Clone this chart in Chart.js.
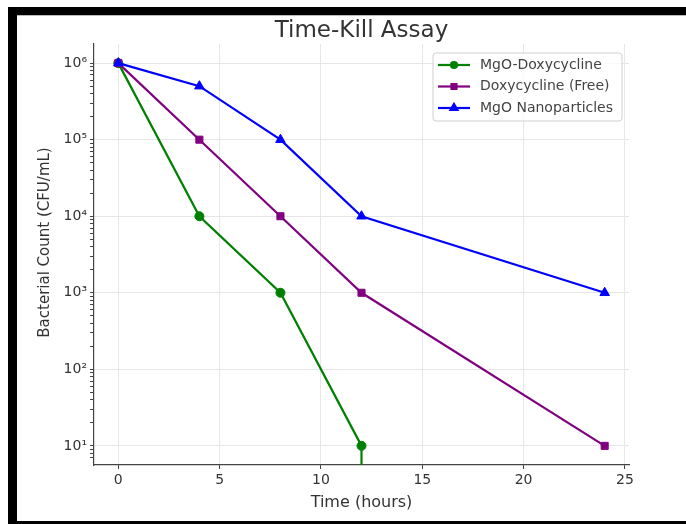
<!DOCTYPE html>
<html>
<head>
<meta charset="utf-8">
<script src="https://cdn.jsdelivr.net/npm/chart.js@4.4.1/dist/chart.umd.min.js"></script>
<style>
html, body { margin: 0; padding: 0; background: #fff; overflow: hidden; }
#frame { position: absolute; left: 8px; top: 7px; width: 800px; height: 506px;
  border: 9px solid #000; border-top-width: 8px; border-right: none;
  box-shadow: inset 0 1px 0 #bbb; }
#chart { position: absolute; left: 0; top: 0; }
</style>
</head>
<body>
<div id="frame"></div>
<canvas id="chart" width="686" height="524"></canvas>
<script>
// values
const hours = [0, 4, 8, 12, 24];
const mgoDoxy = [1e6, 1e4, 1e3, 10, 0];   // drops to zero at 24 h
const doxyFree = [1e6, 1e5, 1e4, 1e3, 10];
const mgoNano = [1e6, 5e5, 1e5, 1e4, 1e3];
const seriesNames = ['MgO-Doxycycline', 'Doxycycline (Free)', 'MgO Nanoparticles'];
const xTicks = [0, 5, 10, 15, 20, 25];
const yMajor = [10, 100, 1e3, 1e4, 1e5, 1e6];

const sup = {'0':'⁰','1':'¹','2':'²','3':'³','4':'⁴','5':'⁵','6':'⁶','7':'⁷','8':'⁸','9':'⁹'};
function powLabel(v) {
  const e = Math.round(Math.log10(v));
  return '10' + String(e).split('').map(c => sup[c]).join('');
}
function isWhole(v) {
  const m = v / Math.pow(10, Math.floor(Math.log10(v) + 1e-9));
  return Math.abs(m - Math.round(m)) < 1e-6;
}
function pts(ys) {
  return hours.map((h, i) => ({x: h, y: ys[i]}));
}

// matplotlib clips a zero on a log axis, so the line falls straight down
const dropToAxis = {
  id: 'dropToAxis',
  beforeDatasetsDraw(chart) {
    const {ctx, chartArea, scales} = chart;
    chart.data.datasets.forEach(ds => {
      ds.data.forEach((p, j) => {
        if (j > 0 && p.y <= 0 && ds.data[j - 1].y > 0) {
          const x0 = scales.x.getPixelForValue(ds.data[j - 1].x);
          const y0 = scales.y.getPixelForValue(ds.data[j - 1].y);
          ctx.save();
          ctx.strokeStyle = ds.borderColor;
          ctx.lineWidth = ds.borderWidth;
          ctx.beginPath();
          ctx.moveTo(x0, y0);
          ctx.lineTo(x0, chartArea.bottom);
          ctx.stroke();
          ctx.restore();
        }
      });
    });
  }
};

// chart title and y label, placed where the original put them
const axesText = {
  id: 'axesText',
  afterDraw(chart) {
    const {ctx, chartArea} = chart;
    ctx.save();
    ctx.font = '23px "DejaVu Sans"';
    ctx.fillStyle = '#333';
    ctx.textAlign = 'center';
    ctx.textBaseline = 'alphabetic';
    ctx.fillText('Time-Kill Assay', (chartArea.left + chartArea.right) / 2, 37);
    ctx.translate(45, (chartArea.top + chartArea.bottom) / 2 - 12);
    ctx.rotate(-Math.PI / 2);
    ctx.font = '15px "DejaVu Sans"';
    ctx.textBaseline = 'middle';
    ctx.fillText('Bacterial Count (CFU/mL)', 0, 0);
    ctx.restore();
  }
};

const boxLegend = {
  id: 'boxLegend',
  afterDraw(chart) {
    const {ctx, chartArea} = chart;
    const w = 189, h = 68;
    const left = chartArea.right - 7 - w, top = chartArea.top + 9;
    ctx.save();
    ctx.beginPath();
    ctx.roundRect(left, top, w, h, 3);
    ctx.fillStyle = 'rgba(255,255,255,0.8)';
    ctx.fill();
    ctx.strokeStyle = '#d0d0d0';
    ctx.lineWidth = 1;
    ctx.stroke();
    chart.data.datasets.forEach((ds, i) => {
      const y = top + 12 + i * 21.5;
      ctx.strokeStyle = ds.borderColor;
      ctx.fillStyle = ds.backgroundColor;
      ctx.lineWidth = ds.borderWidth;
      ctx.beginPath();
      ctx.moveTo(left + 5, y);
      ctx.lineTo(left + 37, y);
      ctx.stroke();
      Chart.helpers.drawPoint(ctx, {pointStyle: ds.pointStyle, radius: ds.pointRadius - 1.5, rotation: 0, borderWidth: 1}, left + 21, y);
      ctx.font = '14px "DejaVu Sans"';
      ctx.fillStyle = '#444';
      ctx.textAlign = 'left';
      ctx.textBaseline = 'middle';
      ctx.fillText(ds.label, left + 47, y);
    });
    ctx.restore();
  }
};

const tickFont = {family: 'DejaVu Sans', size: 14};

new Chart(document.getElementById('chart'), {
  type: 'line',
  data: {
    datasets: [
      {label: seriesNames[0], data: pts(mgoDoxy), borderColor: '#008000', backgroundColor: '#008000',
       pointStyle: 'circle', pointRadius: 4.5, order: 2},
      {label: seriesNames[1], data: pts(doxyFree), borderColor: '#800080', backgroundColor: '#800080',
       pointStyle: 'rect', pointRadius: 5, order: 1},
      {label: seriesNames[2], data: pts(mgoNano), borderColor: '#0000ff', backgroundColor: '#0000ff',
       pointStyle: 'triangle', pointRadius: 5.5, order: 0}
    ].map(d => Object.assign({borderWidth: 2.2, pointBorderWidth: 1, tension: 0, fill: false}, d))
  },
  options: {
    responsive: false,
    animation: false,
    layout: {padding: {top: 44, right: 57, left: 0, bottom: 0}},
    plugins: {
      legend: {display: false},
      tooltip: {enabled: false},
      title: {display: false}
    },
    scales: {
      x: {
        type: 'linear',
        min: -1.2,
        max: 25.2,
        afterFit: s => { s.height = 59; },
        afterBuildTicks: s => { s.ticks = xTicks.map(v => ({value: v})); },
        grid: {color: '#e6e6e6', tickColor: '#444', tickLength: 4},
        border: {color: '#444', width: 1.2},
        ticks: {font: tickFont, color: '#333', padding: 3},
        title: {display: true, text: 'Time (hours)', font: {family: 'DejaVu Sans', size: 16}, color: '#333', padding: {top: 0, bottom: 12}}
      },
      y: {
        type: 'logarithmic',
        min: Math.pow(10, 0.75),
        max: Math.pow(10, 6.25),
        afterFit: s => { s.width = 94; },
        grid: {
          color: c => yMajor.includes(c.tick.value) ? '#e6e6e6' : 'transparent',
          tickColor: c => isWhole(c.tick.value) ? '#444' : 'transparent',
          tickLength: 4
        },
        border: {color: '#444', width: 1.2},
        ticks: {
          autoSkip: false,
          font: tickFont,
          color: '#333',
          padding: 3,
          callback: v => yMajor.includes(v) ? powLabel(v) : ''
        },
        title: {display: false}
      }
    }
  },
  plugins: [dropToAxis, axesText, boxLegend]
});
</script>
</body>
</html>
